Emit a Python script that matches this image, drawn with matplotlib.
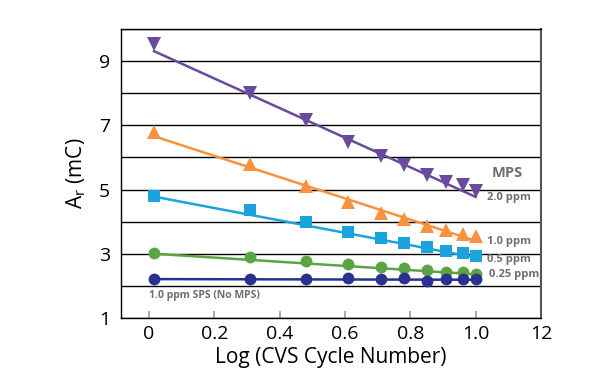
import matplotlib
matplotlib.use("Agg")
import matplotlib.pyplot as plt

plt.rcParams['font.family'] = ['Open Sans', 'DejaVu Sans']

log_cycle = [0.015, 0.31, 0.48, 0.61, 0.71, 0.78, 0.85, 0.91, 0.96, 1.0]

mps_2_0 = [9.52, 8.01, 7.16, 6.48, 6.05, 5.75, 5.46, 5.22, 5.14, 4.95]
mps_1_0 = [6.80, 5.80, 5.10, 4.62, 4.28, 4.08, 3.87, 3.74, 3.63, 3.55]
mps_0_5 = [4.80, 4.35, 3.98, 3.67, 3.48, 3.32, 3.20, 3.08, 3.03, 2.94]
mps_0_25 = [3.01, 2.90, 2.78, 2.69, 2.60, 2.56, 2.48, 2.44, 2.43, 2.38]
sps_only = [2.20, 2.20, 2.20, 2.23, 2.20, 2.24, 2.16, 2.20, 2.20, 2.20]

# fitted line end values (at first and last x)
fit_2_0 = [9.31, 4.77]
fit_1_0 = [6.66, 3.40]
fit_0_5 = [4.78, 2.88]
fit_0_25 = [3.00, 2.36]
fit_sps = [2.21, 2.19]

x_ticks = [0, 0.2, 0.4, 0.6, 0.8, 1.0, 1.2]
x_tick_labels = ['0', '0.2', '0.4', '0.6', '0.8', '1.0', '12']
y_ticks = [1, 2, 3, 4, 5, 6, 7, 8, 9, 10]
y_tick_labels = ['1', '', '3', '', '5', '', '7', '', '9', '']

fig = plt.figure(figsize=(6, 3.84), dpi=100)
ax = fig.add_axes([0.2017, 0.172, 0.70, 0.7525])

series = [
    (mps_2_0, fit_2_0, '#6A4A9C', 'v', 9.5),
    (mps_1_0, fit_1_0, '#F7923D', '^', 9.5),
    (mps_0_5, fit_0_5, '#1AA3DD', 's', 8),
    (mps_0_25, fit_0_25, '#5BA443', 'o', 8.5),
    (sps_only, fit_sps, '#2B3191', 'o', 8.5),
]
xe = [log_cycle[0], log_cycle[-1]]
for vals, fit, col, mk, ms in series:
    ax.plot(xe, fit, color=col, lw=1.8, zorder=3)
    ax.plot(log_cycle, vals, linestyle='none', marker=mk, ms=ms,
            color=col, markeredgewidth=0, zorder=4)

ax.set_xlim(-0.086, 1.2)
ax.set_ylim(1, 10)
ax.set_xticks(x_ticks)
ax.set_xticklabels(x_tick_labels)
ax.set_yticks(y_ticks)
ax.set_yticklabels(y_tick_labels)
ax.tick_params(axis='x', direction='in', length=5, width=1.2, color='#999999',
               labelsize=14, pad=5)
ax.tick_params(axis='y', length=0, labelsize=14, pad=8)
ax.grid(axis='y', color='black', lw=1)
ax.set_axisbelow(True)
for s in ['left', 'top', 'bottom']:
    ax.spines[s].set_color('black')
    ax.spines[s].set_linewidth(1)
ax.spines['right'].set_color('#555555')
ax.spines['right'].set_linewidth(1.5)

ax.set_xlabel('Log (CVS Cycle Number)', fontsize=15, labelpad=3)
ax.set_ylabel('A$_\\mathregular{r}$ (mC)', fontsize=15, labelpad=8)

gray = '#6D6E71'
ax.text(1.095, 5.5, 'MPS', color=gray, fontsize=10.5, fontweight='bold', ha='center', va='center')
ax.text(1.034, 4.75, '2.0 ppm', color=gray, fontsize=8, fontweight='bold', ha='left', va='center')
ax.text(1.034, 3.37, '1.0 ppm', color=gray, fontsize=8, fontweight='bold', ha='left', va='center')
ax.text(1.034, 2.81, '0.5 ppm', color=gray, fontsize=8, fontweight='bold', ha='left', va='center')
ax.text(1.040, 2.34, '0.25 ppm', color=gray, fontsize=8, fontweight='bold', ha='left', va='center')
ax.text(0.0, 1.69, '1.0 ppm SPS (No MPS)', color=gray, fontsize=7.5, fontweight='bold', ha='left', va='center')

fig.savefig('out.png', dpi=100)
